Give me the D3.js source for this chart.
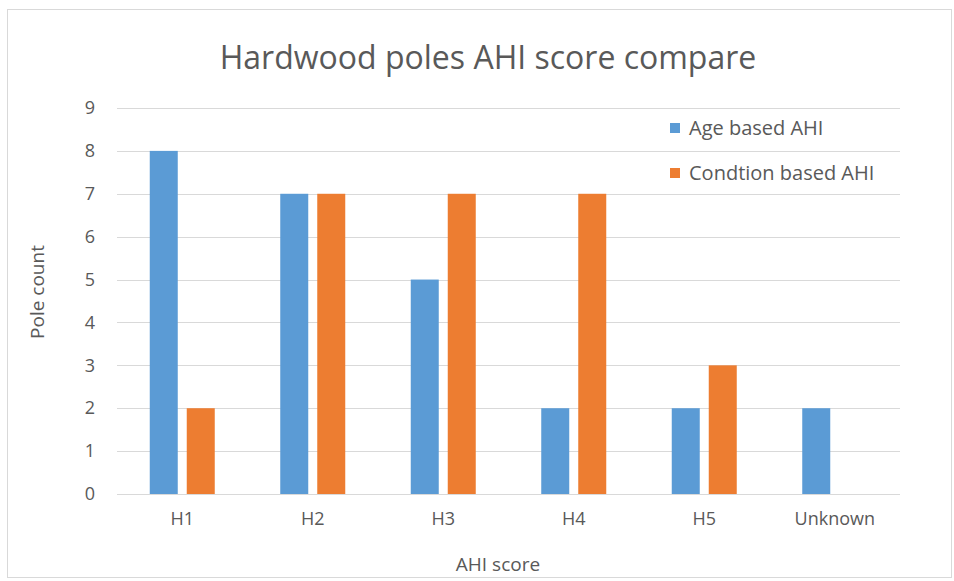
<!DOCTYPE html>
<html>
<head>
<meta charset="utf-8">
<script src="https://cdn.jsdelivr.net/npm/d3@7"></script>
<style>
  body { margin: 0; background: #fff; }
  text { font-family: "Open Sans", sans-serif; fill: #595959; }
</style>
</head>
<body>
<div id="chart"></div>
<script>
// data
const categories = ["H1", "H2", "H3", "H4", "H5", "Unknown"];
const ageBased = [8, 7, 5, 2, 2, 2];
const conditionBased = [2, 7, 7, 7, 3, 0];
const seriesNames = ["Age based AHI", "Condtion based AHI"];
const yTicks = [0, 1, 2, 3, 4, 5, 6, 7, 8, 9];

const colors = ["#5B9BD5", "#ED7D31"];

const W = 954, H = 581;
const margin = { top: 108, right: 54, bottom: 87, left: 117 };
const width = W - margin.left - margin.right;
const height = H - margin.top - margin.bottom;

const svg = d3.select("#chart")
  .append("svg")
  .attr("width", W)
  .attr("height", H);

// chart area border
svg.append("rect")
  .attr("x", 7.5)
  .attr("y", 9.5)
  .attr("width", 944)
  .attr("height", 568)
  .attr("fill", "#fff")
  .attr("stroke", "#d9d9d9");

const g = svg.append("g")
  .attr("transform", "translate(" + margin.left + "," + margin.top + ")");

const x = d3.scaleBand().domain(categories).range([0, width]);
const y = d3.scaleLinear().domain([0, 9]).range([height, 0]);

// gridlines
g.append("g")
  .selectAll("line")
  .data(yTicks)
  .enter().append("line")
  .attr("x1", 0)
  .attr("x2", width)
  .attr("y1", d => Math.round(y(d)) + 0.5)
  .attr("y2", d => Math.round(y(d)) + 0.5)
  .attr("stroke", "#d9d9d9")
  .attr("stroke-width", 1);

// y axis labels
const yAxis = g.append("g")
  .call(d3.axisLeft(y).tickValues(yTicks).tickSize(0).tickPadding(22));
yAxis.select(".domain").remove();
yAxis.selectAll("text")
  .style("font-family", "Open Sans, sans-serif")
  .style("font-size", "18px")
  .attr("fill", "#595959");

// x axis labels
const xAxis = g.append("g")
  .attr("transform", "translate(0," + height + ")")
  .call(d3.axisBottom(x).tickSize(0).tickPadding(18));
xAxis.select(".domain").remove();
xAxis.selectAll("text")
  .style("font-family", "Open Sans, sans-serif")
  .style("font-size", "18px")
  .attr("fill", "#595959");

// bars
const barW = 28, innerGap = 9;
const x1 = d3.scaleBand().domain([0, 1]).range([0, barW * 2 + innerGap]).paddingInner(innerGap / (barW + innerGap));
const series = [ageBased, conditionBased];

series.forEach((vals, si) => {
  g.append("g")
    .selectAll("rect")
    .data(vals)
    .enter().append("rect")
    .attr("x", (d, i) => x(categories[i]) + x.bandwidth() / 2 - (barW * 2 + innerGap) / 2 + x1(si))
    .attr("y", d => y(d))
    .attr("width", x1.bandwidth())
    .attr("height", d => height - y(d))
    .attr("fill", colors[si]);
});

// title
svg.append("text")
  .attr("x", 488)
  .attr("y", 69)
  .attr("text-anchor", "middle")
  .style("font-size", "32px")
  .text("Hardwood poles AHI score compare");

// axis titles
svg.append("text")
  .attr("x", 498)
  .attr("y", 571)
  .attr("text-anchor", "middle")
  .style("font-size", "19px")
  .text("AHI score");

svg.append("text")
  .attr("transform", "translate(44,292) rotate(-90)")
  .attr("text-anchor", "middle")
  .style("font-size", "19px")
  .text("Pole count");

// legend
const legend = svg.append("g").attr("transform", "translate(670,123)");
seriesNames.forEach((name, i) => {
  legend.append("rect")
    .attr("x", 0)
    .attr("y", i * 45)
    .attr("width", 10)
    .attr("height", 10)
    .attr("fill", colors[i]);
  legend.append("text")
    .attr("x", 19)
    .attr("y", i * 45 + 5)
    .attr("dy", "0.35em")
    .style("font-size", "20px")
    .text(name);
});
</script>
</body>
</html>
